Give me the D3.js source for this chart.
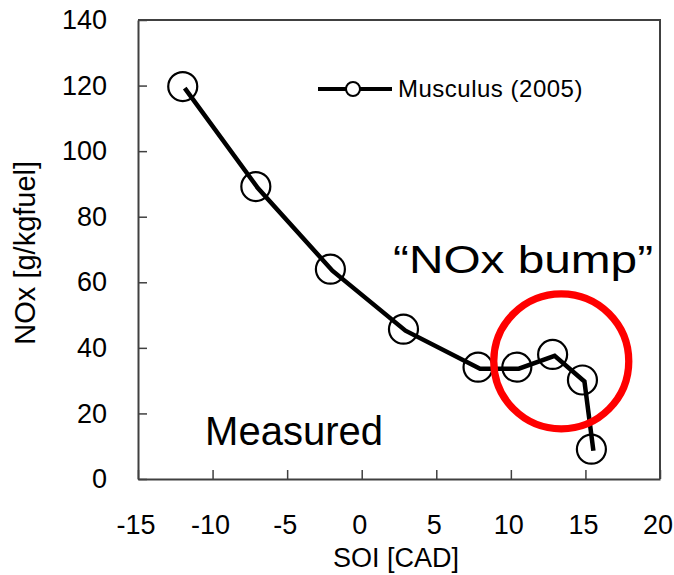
<!DOCTYPE html>
<html>
<head>
<meta charset="utf-8">
<script src="https://cdn.jsdelivr.net/npm/d3@7"></script>
<style>
  body { margin: 0; background: #fff; }
  text { font-family: "Liberation Sans", Arial, sans-serif; fill: #000; }
</style>
</head>
<body>
<svg id="chart"></svg>
<script>
// données (Musculus 2005)
const soi = [-12, -7.1, -2.1, 2.8, 7.8, 10.4, 12.8, 14.8, 15.4];
const nox = [119.7, 89.2, 64, 45.7, 34.1, 34.1, 38, 30.2, 9.1];
const xTicks = [-15, -10, -5, 0, 5, 10, 15, 20];
const yTicks = [0, 20, 40, 60, 80, 100, 120, 140];
const seriesName = "Musculus (2005)";

// annotations (coordonnées en unités de données)
const bump = {x: 13.38, y: 35.9, label: "\u201CNOx bump\u201D", lx: 2.1, ly: 62.7};
const measured = {x: -10.5, y: 10.4, label: "Measured"};

var margin = {top: 20, right: 14, bottom: 96, left: 138},
  width = 674 - margin.left - margin.right,
  height = 575 - margin.top - margin.bottom;

const svg = d3.select("#chart")
  .attr("width", width + margin.left + margin.right)
  .attr("height", height + margin.top + margin.bottom);

const g = svg.append("g")
  .attr("transform", `translate(${margin.left},${margin.top})`);

const x = d3.scaleLinear().domain([-15, 20]).range([0, width]);
const y = d3.scaleLinear().domain([0, 140]).range([height, 0]);

const axisColor = "#404040";
const fmt = d => String(d); // trait d'union simple comme Excel

// axes, ticks vers l'intérieur
const xAxis = g.append("g")
  .attr("transform", `translate(0,${height})`)
  .call(d3.axisBottom(x).tickValues(xTicks).tickFormat(fmt)
    .tickSizeInner(-9).tickSizeOuter(0).tickPadding(36));
const yAxis = g.append("g")
  .call(d3.axisLeft(y).tickValues(yTicks).tickFormat(fmt)
    .tickSizeInner(-9).tickSizeOuter(0).tickPadding(31));

[xAxis, yAxis].forEach(a => {
  a.select(".domain").attr("stroke", axisColor).attr("stroke-width", 2);
  a.selectAll(".tick line").attr("stroke", axisColor).attr("stroke-width", 1.5);
  a.selectAll(".tick text")
    .style("font-family", "Liberation Sans, Arial, sans-serif")
    .attr("font-size", 27)
    .attr("fill", "#000");
});
xAxis.selectAll(".tick text").attr("dy", "0.71em").attr("dx", -2.5);

// cadre haut et droit
g.append("path")
  .attr("d", `M0,0H${width}V${height}`)
  .attr("fill", "none")
  .attr("stroke", axisColor)
  .attr("stroke-width", 2);

// titres des axes
svg.append("text")
  .attr("x", margin.left + x(2.3))
  .attr("y", 567)
  .attr("text-anchor", "middle")
  .attr("font-size", 27)
  .text("SOI [CAD]");

svg.append("text")
  .attr("transform", `translate(35,${margin.top + y(69)}) rotate(-90)`)
  .attr("text-anchor", "middle")
  .attr("font-size", 29)
  .text("NOx [g/kgfuel]");

// courbe
const pts = soi.map((s, i) => ({x: s, y: nox[i]}));
const line = d3.line().x(d => x(d.x)).y(d => y(d.y));

g.append("path")
  .datum(pts)
  .attr("transform", "translate(2,1.5)")
  .attr("d", line)
  .attr("fill", "none")
  .attr("stroke", "#000")
  .attr("stroke-width", 4.5)
  .attr("stroke-linejoin", "miter");

g.selectAll("circle.pt")
  .data(pts)
  .enter().append("circle")
  .attr("class", "pt")
  .attr("cx", d => x(d.x))
  .attr("cy", d => y(d.y))
  .attr("r", 14.5)
  .attr("fill", "none")
  .attr("stroke", "#000")
  .attr("stroke-width", 2.2);

// légende
const leg = svg.append("g").attr("transform", "translate(318,89)");
leg.append("line")
  .attr("x1", 0).attr("x2", 74)
  .attr("stroke", "#000").attr("stroke-width", 4);
leg.append("circle")
  .attr("cx", 35).attr("r", 7)
  .attr("fill", "#fff").attr("stroke", "#000").attr("stroke-width", 2);
leg.append("text")
  .attr("x", 80).attr("y", 8)
  .attr("font-size", 24)
  .attr("letter-spacing", 0.5)
  .text(seriesName);

// cercle rouge "NOx bump"
g.append("circle")
  .attr("cx", x(bump.x))
  .attr("cy", y(bump.y))
  .attr("r", 67.5)
  .attr("fill", "none")
  .attr("stroke", "#ff0000")
  .attr("stroke-width", 7.3);

g.append("text")
  .attr("x", x(bump.lx))
  .attr("y", y(bump.ly))
  .attr("font-size", 38)
  .attr("textLength", 260)
  .attr("lengthAdjust", "spacingAndGlyphs")
  .text(bump.label);

g.append("text")
  .attr("x", x(measured.x))
  .attr("y", y(measured.y))
  .attr("font-size", 40)
  .text(measured.label);
</script>
</body>
</html>
